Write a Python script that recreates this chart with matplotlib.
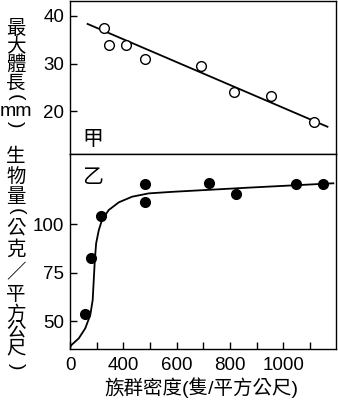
import numpy as np
import matplotlib
matplotlib.use("Agg")
import matplotlib.pyplot as plt

plt.rcParams['font.family'] = ['Liberation Sans', 'Noto Sans CJK TC', 'DejaVu Sans']

# 甲: maximum body length vs. population density
density_len = [329, 345, 410, 482, 691, 814, 954, 1115]
max_len = [37.4, 33.9, 33.9, 31.0, 29.6, 24.0, 23.3, 17.8]
len_fit_x = [266, 1165]
len_fit_y = [38.3, 16.8]

# 乙: biomass vs. population density
density_bio = [257, 279, 315, 482, 482, 722, 821, 1046, 1149]
biomass = [53.6, 82.3, 104.3, 120.6, 111.2, 121.3, 115.3, 120.8, 120.8]
bio_curve_x = [200, 205, 233, 257, 276, 285, 289, 293, 298, 308, 320, 345,
               383, 433, 495, 583, 875, 1187]
bio_curve_y = [36.5, 37.6, 41.1, 46.2, 53.1, 60.8, 71.1, 81.4, 90.1, 96.9,
               102.1, 107.2, 111.2, 114.1, 115.8, 116.6, 118.8, 121.0]

x_ticks = [200, 300, 400, 500, 600, 700, 800, 900, 1000, 1100]
x_labels = ["0", "", "400", "", "600", "", "800", "", "1000", ""]

W, H = 338, 400
fig = plt.figure(figsize=(W / 100, H / 100), dpi=100)
left, right = 70 / W, 336 / W
ax1 = fig.add_axes([left, 1 - 154 / H, right - left, 153 / H])
ax2 = fig.add_axes([left, 1 - 349 / H, right - left, 195 / H])

for ax in (ax1, ax2):
    for s in ax.spines.values():
        s.set_linewidth(1.0)
    ax.tick_params(direction='in', length=5, width=1.0, labelsize=13.5, pad=4)
    ax.set_xlim(200, 1197)

ax1.plot(len_fit_x, len_fit_y, color='black', lw=1.3)
ax1.plot(density_len, max_len, 'o', ms=7, mfc='white', mec='black', mew=1.0)
ax1.set_ylim(11.1, 43.1)
ax1.set_yticks([20, 30, 40])
ax1.set_xticks([])
ax1.text(0.045, 0.1, "甲", transform=ax1.transAxes, fontsize=15,
         family='Noto Sans CJK TC', va='center', ha='left')

ax2.plot(bio_curve_x, bio_curve_y, color='black', lw=1.3)
ax2.plot(density_bio, biomass, 'o', ms=7, color='black')
ax2.set_ylim(35.6, 136.1)
ax2.set_yticks([50, 75, 100])
ax2.set_xticks(x_ticks)
ax2.set_xticklabels(x_labels)
ax2.tick_params(axis='x', pad=6)
ax2.text(0.045, 0.88, "乙", transform=ax2.transAxes, fontsize=15,
         family='Noto Sans CJK TC', va='center', ha='left')

fig.text(201 / W, 1 - 388 / H, "族群密度(隻/平方公尺)", fontsize=14,
         ha='center', va='center')


def vertical_title(chars, ys, x):
    # stack glyphs top to bottom; brackets are turned sideways
    for ch, y in zip(chars, ys):
        rot = -90 if ch in "()" else 0
        fig.text(x / W, 1 - y / H, ch, fontsize=14, ha='center',
                 va='center', rotation=rot, rotation_mode='anchor')


vertical_title(["最", "大", "體", "長", "(", "mm", ")"],
               [29, 46, 64, 84, 97, 112, 124], 15.5)
vertical_title(["生", "物", "量", "(", "公", "克", "／", "平", "方", "公", "尺", ")"],
               [157, 177, 197, 211, 229, 249, 273, 295, 314, 331, 349, 366], 16)

fig.savefig("out.png", dpi=100)
